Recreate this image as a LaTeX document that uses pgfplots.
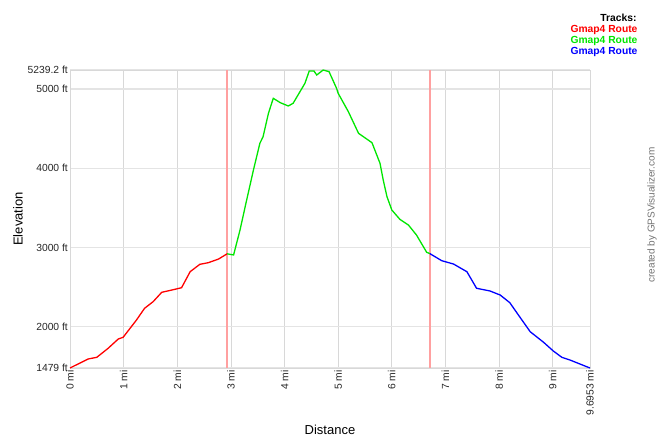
\documentclass[border=0pt]{standalone}
\usepackage{pgfplots}
\pgfplotsset{compat=1.18}
\usepackage{fontspec}
\setmainfont{Liberation Sans}
\definecolor{gridc}{RGB}{216,216,216}
\definecolor{hgridc}{RGB}{228,228,228}
\definecolor{trkred}{RGB}{255,0,0}
\definecolor{trkgreen}{RGB}{0,230,0}
\definecolor{trkblue}{RGB}{0,0,255}
\definecolor{splitc}{RGB}{255,160,160}
\begin{document}
\begin{tikzpicture}[x=1pt,y=1pt]
\useasboundingbox (0,0) rectangle (659,439);
\begin{axis}[
  at={(70pt,71pt)}, anchor=south west,
  scale only axis, width=520pt, height=298pt,
  xmin=0, xmax=9.6953, ymin=1479, ymax=5239.2,
  axis line style={draw=gridc, line width=0.8pt},
  xtick={0,1,2,3,4,5,6,7,8,9,9.6953},
  xticklabels={0 mi,1 mi,2 mi,3 mi,4 mi,5 mi,6 mi,7 mi,8 mi,9 mi,9.6953 mi},
  ytick={1479,2000,3000,4000,5000,5239.2},
  yticklabels={1479 ft,2000 ft,3000 ft,4000 ft,5000 ft,5239.2 ft},
  major tick length=0pt,
  xmajorgrids, ymajorgrids,
  x grid style={draw=gridc, line width=0.8pt},
  y grid style={draw=hgridc, line width=1.2pt},
  xticklabel style={rotate=90, anchor=east, font=\fontsize{10.3}{12}\selectfont, text=black!85, inner sep=2pt},
  yticklabel style={font=\fontsize{10.3}{12}\selectfont, text=black!85, inner sep=2pt},
  clip=false,
]
\addplot[color=splitc, line width=1.6pt, mark=none] coordinates {(2.93,1479) (2.93,5239.2)};
\addplot[color=splitc, line width=1.6pt, mark=none] coordinates {(6.71,1479) (6.71,5239.2)};
\addplot[color=trkred, line width=1.3pt] coordinates {
(0,1479) (0.34,1593) (0.50,1614) (0.71,1727) (0.90,1845) (0.99,1866)
(1.24,2085) (1.39,2232) (1.55,2316) (1.71,2434) (1.90,2463) (2.08,2492)
(2.24,2694) (2.42,2787) (2.58,2808) (2.77,2854) (2.93,2920)};
\addplot[color=trkgreen, line width=1.3pt] coordinates {
(2.93,2920) (3.05,2905) (3.17,3220) (3.28,3557) (3.42,3977) (3.54,4314)
(3.60,4398) (3.70,4693) (3.79,4882) (3.92,4827) (4.07,4785) (4.16,4819)
(4.38,5071) (4.46,5226) (4.55,5226) (4.60,5176) (4.72,5239) (4.83,5218)
(4.97,5008) (5.00,4945) (5.19,4713) (5.38,4440) (5.63,4322) (5.78,4062)
(5.84,3851) (5.91,3640) (6.00,3473) (6.15,3355) (6.31,3283) (6.46,3157)
(6.65,2939) (6.71,2922)};
\addplot[color=trkblue, line width=1.3pt] coordinates {
(6.71,2922) (6.93,2833) (7.15,2791) (7.40,2694) (7.58,2485) (7.83,2451)
(8.02,2400) (8.20,2303) (8.36,2148) (8.58,1937) (8.83,1803) (9.01,1694)
(9.17,1614) (9.32,1580) (9.6953,1479)};
\end{axis}
\node[font=\fontsize{13}{15}\selectfont] at (330,9) {Distance};
\node[font=\fontsize{13}{15}\selectfont, rotate=90] at (18,220) {Elevation};
\node[anchor=east, font=\fontsize{10.3}{12}\selectfont\bfseries] at (640,421) {Tracks:};
\node[anchor=east, font=\fontsize{10.3}{12}\selectfont\bfseries, text=trkred] at (641,409) {Gmap4 Route};
\node[anchor=east, font=\fontsize{10.3}{12}\selectfont\bfseries, text=trkgreen] at (641,398) {Gmap4 Route};
\node[anchor=east, font=\fontsize{10.3}{12}\selectfont\bfseries, text=trkblue] at (641,387) {Gmap4 Route};
\node[rotate=90, font=\fontsize{10}{12}\selectfont, text=black!55] at (652,224) {created by GPSVisualizer.com};
\end{tikzpicture}
\end{document}
